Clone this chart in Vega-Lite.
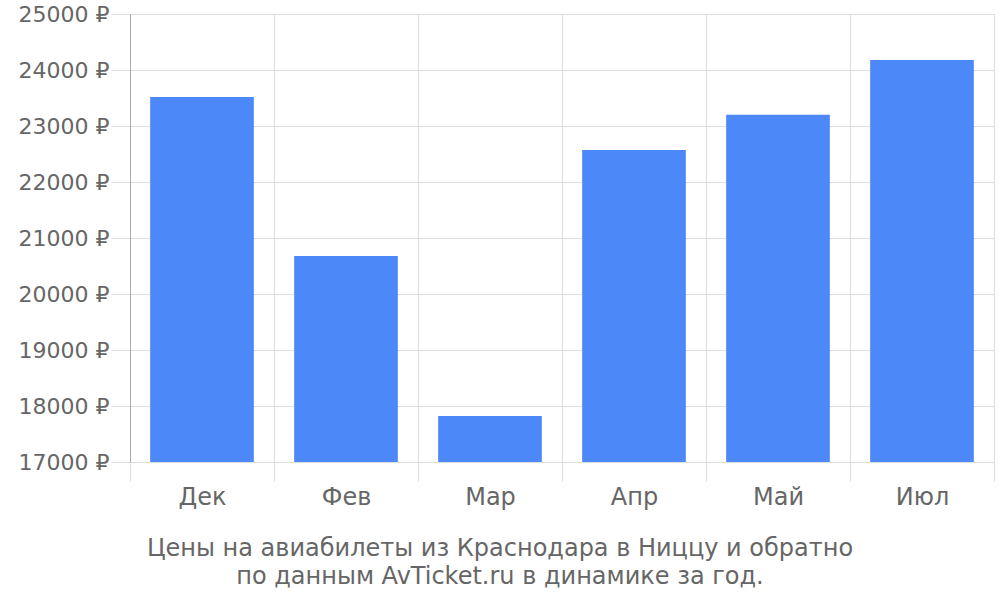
{
  "$schema": "https://vega.github.io/schema/vega-lite/v6.json",
  "width": 864,
  "height": 448,
  "autosize": "none",
  "padding": {"left": 130, "top": 14, "right": 6, "bottom": 138},
  "background": "white",
  "config": {
    "font": "DejaVu Sans",
    "view": {"stroke": null}
  },
  "title": {
    "text": ["Цены на авиабилеты из Краснодара в Ниццу и обратно", "по данным AvTicket.ru в динамике за год."],
    "orient": "bottom",
    "anchor": "middle",
    "dx": -62,
    "offset": 28,
    "fontSize": 24,
    "fontWeight": "normal",
    "color": "#666666",
    "lineHeight": 28
  },
  "data": {
    "values": [
      {"month": "Дек", "price": 23520},
      {"month": "Фев", "price": 20680},
      {"month": "Мар", "price": 17820},
      {"month": "Апр", "price": 22570},
      {"month": "Май", "price": 23200},
      {"month": "Июл", "price": 24180}
    ]
  },
  "mark": {"type": "bar", "color": "#4d88f9", "clip": true, "width": {"band": 0.72}},
  "encoding": {
    "x": {
      "field": "month",
      "type": "nominal",
      "sort": null,
      "title": null,
      "scale": {"paddingInner": 0, "paddingOuter": 0},
      "axis": {
        "labelAngle": 0,
        "labelFontSize": 24,
        "labelColor": "#666666",
        "labelPadding": 4,
        "tickBand": "extent",
        "tickSize": 19,
        "tickColor": "#dddddd",
        "grid": true,
        "gridColor": "#dddddd",
        "domain": false
      }
    },
    "y": {
      "field": "price",
      "type": "quantitative",
      "title": null,
      "scale": {"domain": [17000, 25000], "zero": false, "nice": false},
      "axis": {
        "values": [17000, 18000, 19000, 20000, 21000, 22000, 23000, 24000, 25000],
        "labelExpr": "datum.value + ' ₽'",
        "labelFontSize": 22,
        "labelColor": "#666666",
        "labelPadding": 2,
        "tickSize": 19,
        "tickColor": "#dddddd",
        "grid": true,
        "gridColor": "#dddddd",
        "domainColor": "#aaaaaa"
      }
    }
  }
}
